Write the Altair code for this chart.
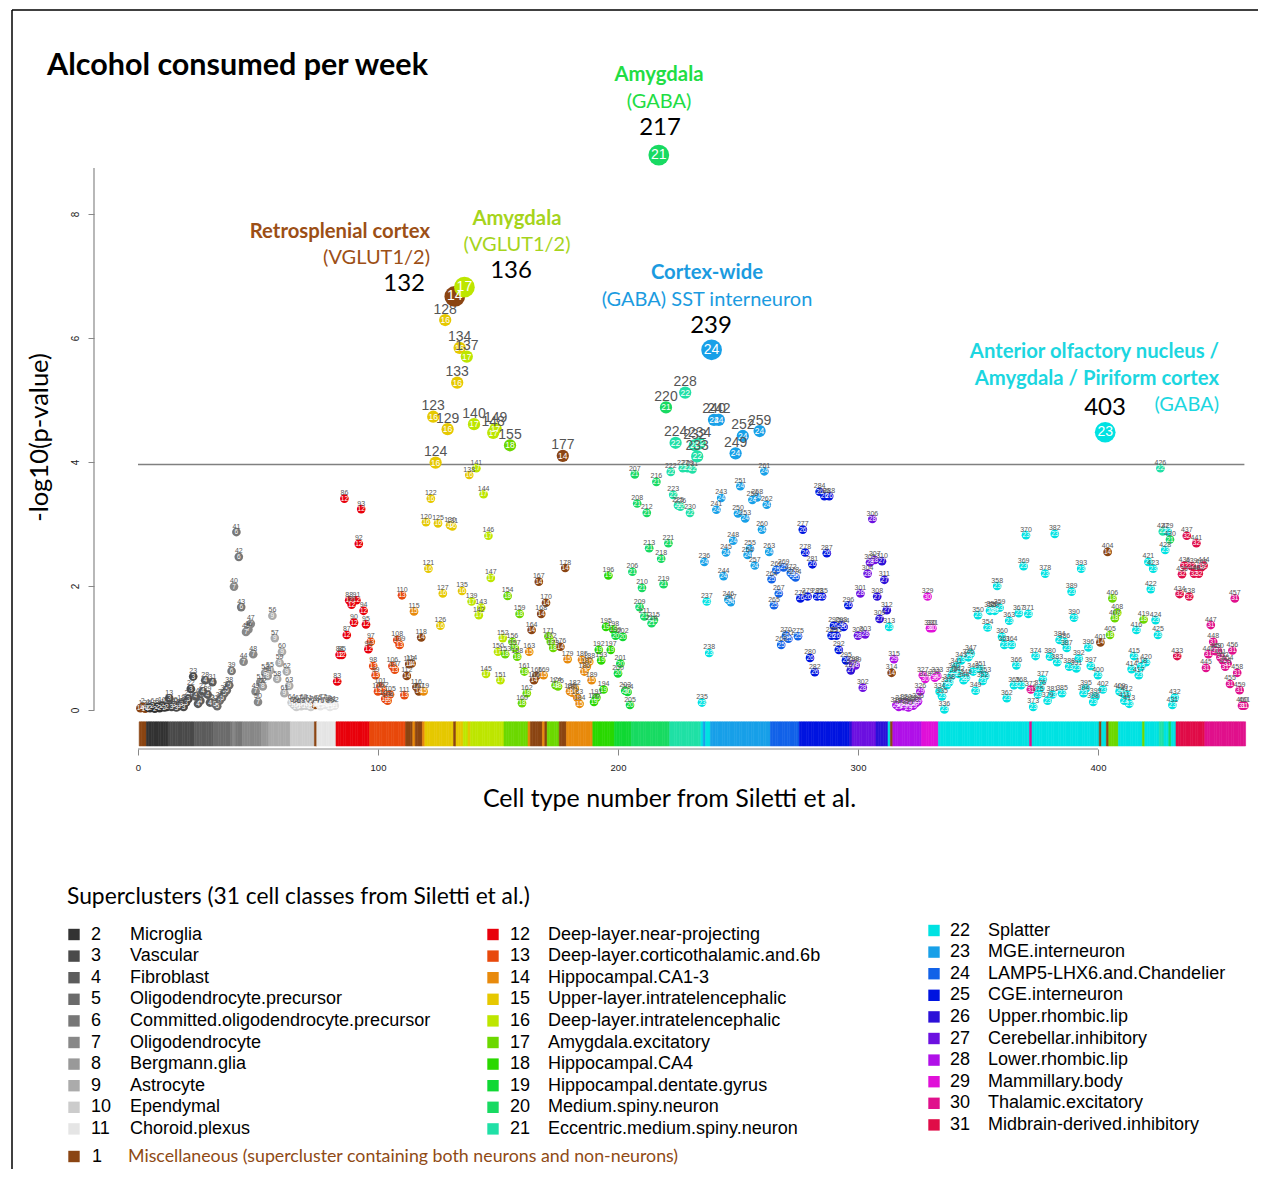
import altair as alt
import pandas as pd

TITLE = "Alcohol consumed per week"
X_TITLE = "Cell type number from Siletti et al."
Y_TITLE = "-log10(p-value)"
THRESHOLD = 3.96
TOP_CELLS = [132, 136, 217, 239, 403]
X_TICKS = [0, 100, 200, 300, 400]
Y_TICKS = [0, 2, 4, 6, 8]

# -log10(p) for cell types 1..461
VALUES = [
    0.03, 0.05, 0.02, 0.04, 0.03, 0.06, 0.02, 0.05, 0.03, 0.07,
    0.04, 0.05, 0.19, 0.05, 0.08, 0.04, 0.06, 0.10, 0.05, 0.12,
    0.18, 0.34, 0.54, 0.22, 0.10, 0.15, 0.30, 0.48, 0.25, 0.12,
    0.45, 0.10, 0.06, 0.15, 0.20, 0.27, 0.32, 0.40, 0.63, 1.99,
    2.87, 2.47, 1.66, 0.78, 1.26, 1.30, 1.39, 0.90, 0.30, 0.13,
    0.45, 0.38, 0.60, 0.55, 0.64, 1.52, 1.16, 0.50, 0.76, 0.94,
    0.27, 0.62, 0.39, 0.12, 0.08, 0.05, 0.10, 0.06, 0.12, 0.07,
    0.10, 0.05, 0.09, 0.08, 0.11, 0.06, 0.12, 0.08, 0.10, 0.05,
    0.09, 0.07, 0.46, 0.89, 0.89, 3.41, 1.21, 1.77, 1.70, 1.41,
    1.77, 2.68, 3.24, 1.60, 1.38, 0.98, 1.10, 0.71, 0.56, 0.30,
    0.38, 0.31, 0.18, 0.15, 0.25, 0.71, 0.65, 1.13, 1.05, 1.85,
    0.24, 0.55, 0.74, 0.75, 1.59, 0.37, 0.30, 1.17, 0.30, 3.03,
    2.28, 3.41, 4.73, 3.99, 3.01, 1.36, 1.88, 6.29, 4.53, 2.98,
    2.96, 6.67, 5.28, 5.84, 1.92, 6.82, 5.70, 3.79, 1.75, 4.61,
    3.90, 1.53, 1.65, 3.48, 0.58, 2.81, 2.13, 4.47, 4.54, 0.94,
    0.48, 1.16, 0.90, 1.84, 4.27, 1.10, 1.00, 0.86, 1.55, 0.11,
    0.62, 0.27, 0.94, 1.29, 0.48, 0.55, 2.07, 1.55, 0.56, 1.73,
    1.19, 1.10, 1.00, 0.40, 0.38, 1.02, 4.10, 2.29, 0.82, 0.30,
    0.28, 0.35, 0.20, 0.10, 0.81, 0.62, 0.70, 0.78, 0.48, 0.13,
    0.20, 0.97, 0.80, 0.33, 1.34, 2.17, 0.97, 1.30, 1.20, 0.59,
    0.75, 1.18, 0.31, 0.29, 0.08, 2.23, 3.80, 3.33, 1.66, 1.97,
    1.51, 3.18, 2.61, 1.40, 1.45, 3.68, 8.95, 2.44, 2.03, 4.88,
    2.69, 3.84, 3.47, 4.31, 3.30, 3.28, 3.90, 5.12, 3.90, 3.18,
    3.88, 4.27, 4.09, 4.30, 0.12, 2.39, 1.75, 0.92, 5.81, 4.68,
    3.23, 4.68, 3.42, 2.16, 2.54, 1.78, 1.74, 2.73, 4.14, 3.17,
    3.61, 4.42, 3.09, 2.50, 2.60, 3.39, 2.33, 3.43, 4.50, 2.91,
    3.85, 3.31, 2.55, 2.11, 1.69, 2.26, 1.88, 1.05, 2.30, 1.20,
    1.15, 2.21, 2.17, 2.14, 1.19, 1.80, 2.91, 2.54, 1.83, 0.84,
    2.35, 0.61, 1.83, 3.52, 1.83, 3.45, 2.53, 3.45, 1.20, 1.36,
    1.20, 0.97, 1.37, 1.34, 0.80, 1.69, 0.64, 0.74, 0.72, 1.20,
    1.88, 0.36, 1.22, 2.20, 2.38, 3.08, 2.42, 1.83, 1.47, 2.40,
    2.10, 1.61, 1.34, 0.60, 0.82, 0.08, 0.05, 0.10, 0.06, 0.12,
    0.04, 0.09, 0.07, 0.11, 0.14, 0.30, 0.56, 0.50, 1.83, 1.32,
    1.32, 0.52, 0.55, 0.30, 0.22, 0.01, 0.40, 0.45, 0.55, 0.62,
    0.70, 0.58, 0.80, 0.48, 0.52, 0.85, 0.91, 0.62, 0.31, 1.53,
    0.66, 0.47, 0.55, 1.33, 1.60, 1.62, 1.60, 2.00, 1.65, 1.18,
    1.05, 0.19, 1.44, 1.05, 0.40, 0.72, 1.56, 0.40, 2.32, 2.82,
    1.55, 0.33, 0.05, 0.87, 0.25, 0.35, 0.49, 2.20, 0.15, 0.86,
    0.25, 2.84, 0.77, 1.13, 0.27, 1.10, 1.00, 0.70, 1.91, 1.49,
    0.67, 0.83, 2.28, 0.27, 0.35, 1.01, 0.71, 0.13, 0.22, 0.56,
    1.09, 0.33, 4.48, 2.55, 1.21, 1.80, 1.48, 1.57, 0.30, 0.28,
    0.15, 0.25, 0.10, 0.66, 0.87, 1.29, 0.56, 0.70, 1.46, 0.77,
    2.39, 1.95, 2.28, 1.45, 1.21, 3.90, 2.88, 2.58, 2.88, 2.75,
    0.08, 0.20, 0.87, 1.87, 2.19, 2.33, 2.81, 1.83, 2.32, 2.20,
    2.69, 2.20, 2.30, 2.33, 0.68, 0.90, 1.37, 1.10, 0.95, 0.95,
    0.85, 0.80, 0.70, 0.75, 0.42, 0.96, 1.80, 0.60, 0.32, 0.07, 0.07,
]

# number printed inside each circle, as runs (first cell, last cell, number)
LABEL_RUNS = [
    (1, 3, 14), (4, 12, 2), (13, 23, 3), (24, 31, 4), (32, 38, 5), (39, 39, 6),
    (40, 40, 7), (41, 43, 6), (44, 51, 7), (52, 54, 8), (55, 63, 9), (64, 73, 10),
    (74, 74, 14), (75, 82, 11), (83, 96, 12), (97, 111, 13), (112, 114, 14),
    (115, 115, 15), (116, 118, 14), (119, 119, 15), (120, 131, 16), (132, 132, 14),
    (133, 135, 16), (136, 137, 17), (138, 138, 16), (139, 152, 17), (153, 162, 18),
    (163, 163, 15), (164, 168, 14), (169, 169, 15), (170, 170, 14), (171, 175, 18),
    (176, 178, 14), (179, 189, 15), (190, 198, 19), (199, 205, 20), (206, 221, 21),
    (222, 234, 22), (235, 235, 23), (236, 236, 24), (237, 238, 23), (239, 263, 24),
    (264, 275, 25), (276, 296, 26), (297, 297, 27), (298, 307, 28), (308, 312, 27),
    (313, 313, 23), (314, 314, 14), (315, 326, 29), (327, 333, 30), (334, 371, 23),
    (372, 372, 31), (373, 400, 23), (401, 401, 14), (402, 403, 23), (404, 404, 14),
    (405, 408, 18), (409, 418, 23), (419, 419, 18), (420, 425, 23), (426, 427, 22),
    (428, 429, 23), (430, 430, 21), (431, 432, 23), (433, 444, 32), (445, 461, 31),
]

LEGEND_NAMES = [
    "Miscellaneous (supercluster containing both neurons and non-neurons)",
    "Microglia", "Vascular", "Fibroblast", "Oligodendrocyte.precursor",
    "Committed.oligodendrocyte.precursor", "Oligodendrocyte", "Bergmann.glia",
    "Astrocyte", "Ependymal", "Choroid.plexus",
    "Deep-layer.near-projecting", "Deep-layer.corticothalamic.and.6b",
    "Hippocampal.CA1-3", "Upper-layer.intratelencephalic",
    "Deep-layer.intratelencephalic", "Amygdala.excitatory", "Hippocampal.CA4",
    "Hippocampal.dentate.gyrus", "Medium.spiny.neuron", "Eccentric.medium.spiny.neuron",
    "Splatter", "MGE.interneuron", "LAMP5-LHX6.and.Chandelier", "CGE.interneuron",
    "Upper.rhombic.lip", "Cerebellar.inhibitory", "Lower.rhombic.lip",
    "Mammillary.body", "Thalamic.excitatory", "Midbrain-derived.inhibitory",
]
LEGEND_COLORS = [
    "#8b4513",
    "#333333", "#4a4a4a", "#5c5c5c", "#6b6b6b", "#777777", "#888888", "#999999",
    "#ababab", "#cccccc", "#e5e5e5",
    "#e8000b", "#e8490c", "#e88a0c", "#e6c800", "#bde600", "#6cd800", "#2ad800",
    "#10d834", "#18da62", "#20e0a6",
    "#00e2e2", "#18a0e8", "#1262e8", "#0014e0", "#2c10d8", "#6c10e0", "#b010e8",
    "#e010d8", "#e0108c", "#e00c48",
]

# ---------------------------------------------------------------- tables
labels = []
for a, b, lab in LABEL_RUNS:
    labels += [lab] * (b - a + 1)


def legend_index(lab):
    if lab == 14:
        return 1
    return lab if lab <= 13 else lab - 1


cells = list(range(1, len(VALUES) + 1))
df = pd.DataFrame({"cell": cells, "value": VALUES, "lab": labels})
df["color"] = [LEGEND_COLORS[legend_index(l) - 1] for l in df["lab"]]
df["tier"] = [
    "big" if c in TOP_CELLS else ("mid" if v > THRESHOLD else "small")
    for c, v in zip(df["cell"], df["value"])
]
df["lab_txt"] = df["lab"].astype(str)
df["cell_txt"] = df["cell"].astype(str)
df["x0"] = df["cell"] - 0.5
df["x1"] = df["cell"] + 0.5

one = pd.DataFrame({"k": [0]})

# ---------------------------------------------------------------- scales / axes
xs = alt.Scale(domain=[-18.333, 460.833], nice=False, zero=False)
ys = alt.Scale(domain=[-0.629, 8.742], nice=False, zero=False)

xaxis = alt.Axis(values=X_TICKS, domain=False, grid=False, ticks=True, tickSize=6,
                 tickColor="#888888", labelFontSize=9.5, labelFont="Liberation Sans",
                 labelColor="#222222", labelPadding=7, title=X_TITLE, titleFont="Lato",
                 titleFontSize=25, titleFontWeight="normal", titleColor="black",
                 titlePadding=15)
yaxis = alt.Axis(values=Y_TICKS, domain=False, grid=False, ticks=True, tickSize=6,
                 tickColor="#888888", labelAngle=270, labelAlign="center",
                 labelBaseline="bottom", labelFontSize=10, labelFont="Liberation Sans",
                 labelColor="#222222", labelPadding=8, title=Y_TITLE, titleFont="Lato",
                 titleFontSize=25.5, titleFontWeight="normal", titleColor="black",
                 titlePadding=18, titleY=269)

X = alt.X("cell:Q", scale=xs, axis=xaxis)
Y = alt.Y("value:Q", scale=ys, axis=yaxis)
COLOR = alt.Color("color:N", scale=None)

layers = []

# colour strip of supercluster per cell type
layers.append(
    alt.Chart(df).mark_rect(strokeWidth=0.6).encode(
        x=alt.X("x0:Q", scale=xs, axis=xaxis), x2="x1:Q",
        y=alt.YDatum(-0.19, type="quantitative", scale=ys, axis=yaxis),
        y2=alt.Y2Datum(-0.58),
        color=COLOR, stroke=alt.Stroke("color:N", scale=None))
)

# threshold and axis lines
layers.append(
    alt.Chart(one).mark_rule(color="#808080", strokeWidth=1.4).encode(
        x=alt.XDatum(0, type="quantitative", scale=xs, axis=xaxis),
        x2=alt.X2Datum(461),
        y=alt.YDatum(THRESHOLD, type="quantitative", scale=ys, axis=yaxis))
)
layers.append(
    alt.Chart(one).mark_rule(color="#888888", strokeWidth=1.2).encode(
        x=alt.XDatum(-18.333, type="quantitative", scale=xs, axis=xaxis),
        y=alt.YDatum(0, type="quantitative", scale=ys, axis=yaxis),
        y2=alt.Y2Datum(8.742))
)
layers.append(
    alt.Chart(one).mark_rule(color="#888888", strokeWidth=1.2).encode(
        x=alt.XDatum(0, type="quantitative", scale=xs, axis=xaxis),
        x2=alt.X2Datum(400),
        y=alt.YDatum(-0.629, type="quantitative", scale=ys, axis=yaxis))
)

# circles, inner numbers and cell-type numbers
circle_size = {"small": 75, "mid": 150, "big": 430}
inner_font = {"small": 6.5, "mid": 8.5, "big": 14}
top_font = {"small": 7, "mid": 14}
top_dy = {"small": -3.5, "mid": -6.5}
for tier in ["small", "mid", "big"]:
    sub = alt.Chart(df).transform_filter(alt.datum.tier == tier)
    layers.append(sub.mark_circle(size=circle_size[tier], opacity=1).encode(
        x=X, y=Y, color=COLOR))
    layers.append(sub.mark_text(color="white", fontSize=inner_font[tier],
                                font="Liberation Sans", align="center",
                                baseline="middle").encode(x=X, y=Y, text="lab_txt:N"))
    if tier in top_font:
        layers.append(sub.mark_text(color="#555555", fontSize=top_font[tier],
                                    font="Liberation Sans", align="center",
                                    baseline="alphabetic", dy=top_dy[tier]).encode(
            x=X, y=Y, text="cell_txt:N"))

# ---------------------------------------------------------------- annotations (pixel layout)
GREEN, LIME, BROWN, BLUE, CYAN = "#22dd44", "#a6d41c", "#9c4f16", "#1b9be0", "#1cd6e0"
ann = pd.DataFrame([
    # text, x, y, color, size, weight, align
    ("Amygdala", 565, -93, GREEN, 20.3, "bold", "center"),
    ("(GABA)", 565, -66, GREEN, 20, "normal", "center"),
    ("217", 566, -40, "black", 24, "normal", "center"),
    ("Retrosplenial cortex", 336, 64, BROWN, 20.3, "bold", "right"),
    ("(VGLUT1/2)", 336, 90, BROWN, 20, "normal", "right"),
    ("132", 331, 116, "black", 24, "normal", "right"),
    ("Amygdala", 423, 51, LIME, 20.3, "bold", "center"),
    ("(VGLUT1/2)", 423, 77, LIME, 20, "normal", "center"),
    ("136", 417, 103, "black", 24, "normal", "center"),
    ("Cortex-wide", 613, 105, BLUE, 20.3, "bold", "center"),
    ("(GABA) SST interneuron", 613, 132, BLUE, 20, "normal", "center"),
    ("239", 617, 158, "black", 24, "normal", "center"),
    ("Anterior olfactory nucleus /", 1125, 184, CYAN, 20.3, "bold", "right"),
    ("Amygdala / Piriform cortex", 1125, 211, CYAN, 20.3, "bold", "right"),
    ("403", 1011, 240, "black", 24, "normal", "center"),
    ("(GABA)", 1125, 237, CYAN, 20, "normal", "right"),
], columns=["text", "px", "py", "color", "fs", "fweight", "halign"])

PX = alt.X("px:Q", scale=None)
PY = alt.Y("py:Q", scale=None)
for (fw, ha, fs), sub in ann.groupby(["fweight", "halign", "fs"]):
    layers.append(alt.Chart(sub.reset_index(drop=True)).mark_text(
        font="Lato", fontWeight=fw, align=ha, baseline="middle", fontSize=float(fs)).encode(
        x=PX, y=PY, text="text:N", color=COLOR))

# chart title
layers.append(alt.Chart(pd.DataFrame({"text": [TITLE], "px": [-47], "py": [-93]}))
              .mark_text(font="Lato", fontWeight="bold", fontSize=30.5, align="left",
                         baseline="alphabetic", color="black")
              .encode(x=PX, y=PY, text="text:N"))

# ---------------------------------------------------------------- legend (pixel layout)
LEG_COLS = [(-20, -3, 36, 766.5), (399, 416, 454, 766.5), (840, 856, 894, 762.5)]
ROW_STEP = 21.6
rows = []
for i in range(2, 32):
    c = (i - 2) // 10
    r = (i - 2) % 10
    sx, nx, tx, y0 = LEG_COLS[c]
    rows.append(dict(num=str(i), name=LEGEND_NAMES[i - 1], color=LEGEND_COLORS[i - 1],
                     sx=sx, nx=nx, tx=tx, py=y0 + r * ROW_STEP))
leg = pd.DataFrame(rows)
misc = pd.DataFrame([dict(num="1", name=LEGEND_NAMES[0], color=LEGEND_COLORS[0],
                          sx=-20, nx=-2, tx=34, py=988.5)])
legall = pd.concat([leg, misc], ignore_index=True)

layers.append(alt.Chart(legall).mark_square(size=130, opacity=1).encode(
    x=alt.X("sx:Q", scale=None), y=PY, color=COLOR))
layers.append(alt.Chart(legall).mark_text(font="Liberation Sans", fontSize=18, align="left",
                                          baseline="middle", color="black").encode(
    x=alt.X("nx:Q", scale=None), y=PY, text="num:N"))
layers.append(alt.Chart(leg).mark_text(font="Liberation Sans", fontSize=18, align="left",
                                       baseline="middle", color="black").encode(
    x=alt.X("tx:Q", scale=None), y=PY, text="name:N"))
layers.append(alt.Chart(misc).mark_text(font="Lato", fontSize=17.8, align="left",
                                        baseline="middle", color="#8f4a15").encode(
    x=alt.X("tx:Q", scale=None), y=PY, text="name:N"))
layers.append(alt.Chart(pd.DataFrame({"text": ["Superclusters (31 cell classes from Siletti et al.)"],
                                      "px": [-27], "py": [729]}))
              .mark_text(font="Lato", fontSize=22.8, align="left", baseline="middle",
                         color="black")
              .encode(x=PX, y=PY, text="text:N"))

# frame lines of the original figure
frame = pd.DataFrame({"px": [-82, -82], "px2": [1170, -82], "py": [-158, -158], "py2": [-158, 1010]})
layers.append(alt.Chart(frame).mark_rule(color="black", strokeWidth=1.5).encode(
    x=PX, x2="px2:Q", y=PY, y2="py2:Q"))

chart = alt.layer(*layers).properties(
    width=1150, height=581,
    autosize=alt.AutoSizeParams(type="none"),
    padding={"left": 86, "top": 160, "right": 14, "bottom": 420},
    background="white",
).configure_view(stroke=None)

chart.save("out.html", embed_options={"renderer": "svg", "actions": False})
